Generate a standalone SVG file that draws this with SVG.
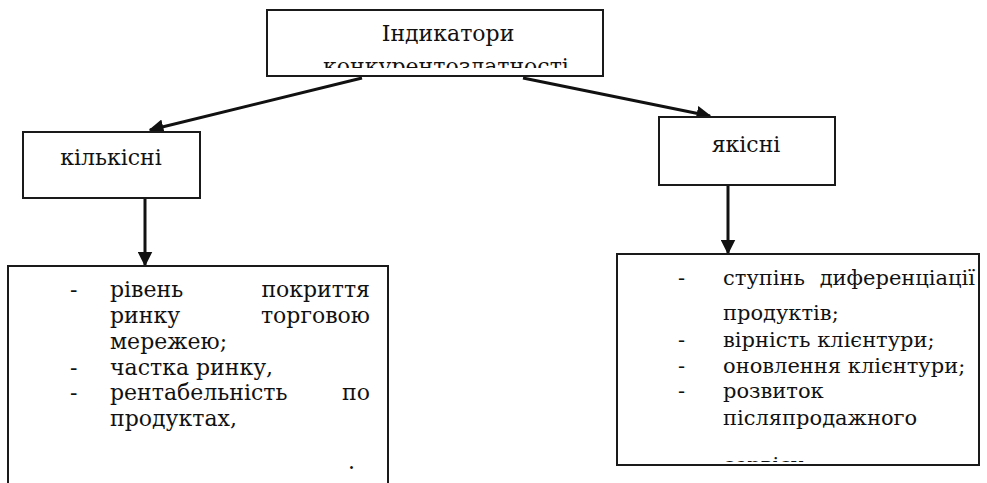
<svg xmlns="http://www.w3.org/2000/svg" width="987" height="483" viewBox="0 0 987 483">
<style>
.box{fill:#fff;stroke:#1a1a1a;stroke-width:2}
text{font-family:'DejaVu Serif','Liberation Serif',serif;font-size:22px;fill:#111}
.r text{font-size:21px}
.c{text-anchor:middle}
.e{text-anchor:end}
.ln{stroke:#111;stroke-width:3;fill:none}
</style>
<defs>
<marker id="ah" viewBox="0 0 10 10" refX="9" refY="5" markerWidth="5" markerHeight="5" orient="auto" markerUnits="strokeWidth">
<path d="M0,0 L10,5 L0,10 z" fill="#111"/>
</marker>
<clipPath id="clipTop"><rect x="267" y="10" width="336" height="58"/></clipPath>
<clipPath id="clipRight"><rect x="617" y="254" width="370" height="208"/></clipPath>
</defs>
<rect width="987" height="483" fill="#fff"/>

<g id="connectors">
<line class="ln" x1="362" y1="78" x2="150" y2="130" stroke-width="3.5" marker-end="url(#ah)"/>
<line class="ln" x1="523" y1="78" x2="710" y2="116" stroke-width="3.5" marker-end="url(#ah)"/>
<line class="ln" x1="145" y1="198" x2="145" y2="265" stroke-width="2.2" marker-end="url(#ah)"/>
<line class="ln" x1="728" y1="185" x2="728" y2="253" marker-end="url(#ah)"/>
</g>

<g id="node-top">
<rect class="box" x="267" y="10" width="336" height="66"/>
<g clip-path="url(#clipTop)">
<text class="c" x="448" y="41">Індикатори</text>
<text class="c" x="446" y="74">конкурентоздатності</text>
</g>
</g>

<g id="node-kilkisni">
<rect class="box" x="23" y="132" width="177" height="66"/>
<text class="c" x="111" y="165">кількісні</text>
</g>

<g id="node-yakisni">
<rect class="box" x="659" y="117" width="176" height="68"/>
<text class="c" x="746" y="152">якісні</text>
</g>

<g id="node-left-list">
<rect class="box" x="8" y="266" width="380" height="240"/>
<text x="70" y="297">-</text>
<text x="110" y="297">рівень</text>
<text class="e" x="370" y="297">покриття</text>
<text x="110" y="323">ринку</text>
<text class="e" x="370" y="323">торговою</text>
<text x="110" y="349">мережею;</text>
<text x="70" y="375">-</text>
<text x="110" y="375">частка ринку,</text>
<text x="70" y="400">-</text>
<text x="110" y="400">рентабельність</text>
<text class="e" x="370" y="400">по</text>
<text x="110" y="426">продуктах,</text>
<text x="348" y="469">.</text>
</g>

<g id="node-right-list" class="r">
<rect class="box" x="617" y="254" width="362" height="211"/>
<g clip-path="url(#clipRight)">
<text x="678" y="285">-</text>
<text x="723" y="285">ступінь</text>
<text class="e" x="975" y="285">диференціації</text>
<text x="723" y="320">продуктів;</text>
<text x="678" y="347">-</text>
<text x="723" y="347">вірність клієнтури;</text>
<text x="678" y="373">-</text>
<text x="723" y="373">оновлення клієнтури;</text>
<text x="678" y="398">-</text>
<text x="723" y="398">розвиток</text>
<text x="723" y="425">післяпродажного</text>
<text x="723" y="472">сервісу</text>
</g>
</g>
</svg>
